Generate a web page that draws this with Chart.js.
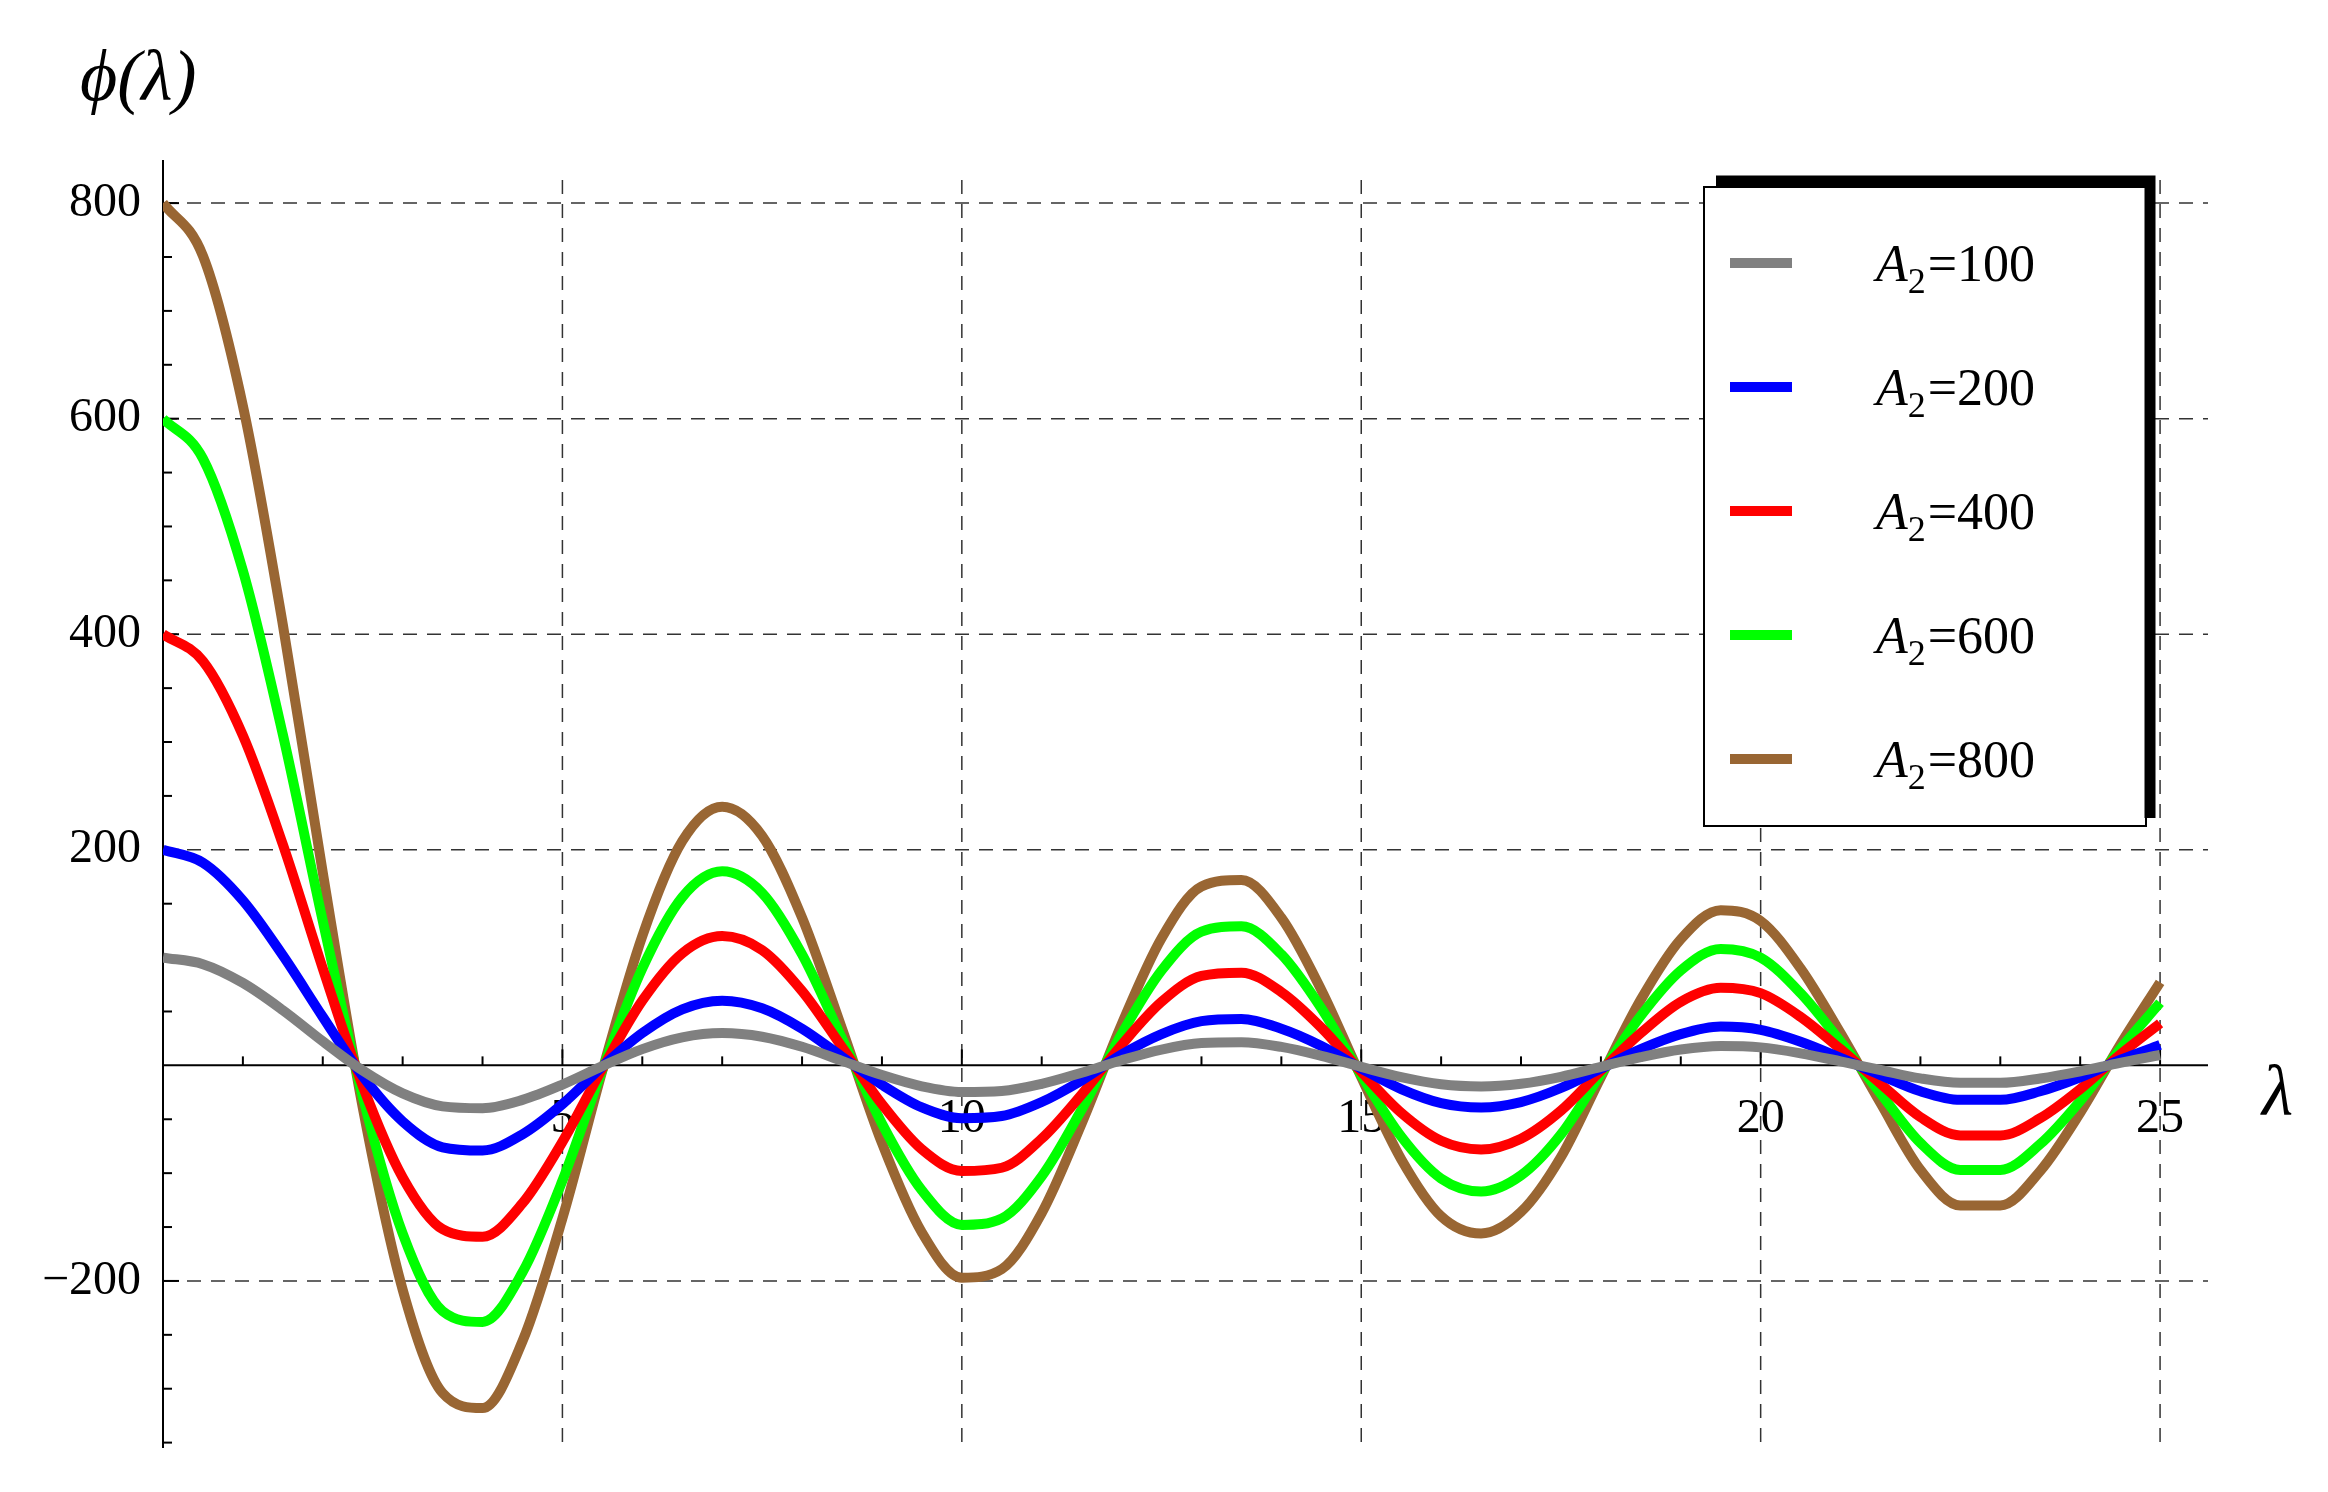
<!DOCTYPE html>
<html><head><meta charset="utf-8">
<script src="https://cdn.jsdelivr.net/npm/chart.js@4/dist/chart.umd.min.js"></script>
<style>html,body{margin:0;padding:0;background:#fff}#w{width:2328px;height:1492px}</style>
</head><body><div id="w"><canvas id="c"></canvas></div>
<script>
const lambdas = [];
for (let i = 0; i <= 50; i++) lambdas.push(i * 0.5);
const labels = ["A2=100","A2=200","A2=400","A2=600","A2=800"];
const s100 = [100,93.9,76.5,51.2,22.4,-4.8,-26,-38,-39.7,-32,-17.8,-0.7,15.1,26,30,26.6,17.2,4.2,-9,-19.4,-24.6,-23.7,-17.1,-6.8,4.8,14.7,20.7,21.5,17.1,8.8,-1.4,-10.9,-17.5,-19.5,-17,-10.6,-1.3,7.6,14.7,18,16.7,11.2,3.7,-4.3,-12.1,-16.2,-16.2,-12.2,-5.6,2.4,9.6];
const s200 = [200,188,153,102,45,-10,-52,-76,-79,-64,-36,-1,30,52,60,53,34,8,-18,-39,-49,-47,-34,-14,10,29,41,43,34,18,-3,-22,-35,-39,-34,-21,-3,15,29,36,33,22,7,-9,-24,-32,-32,-24,-11,5,19];
const s400 = [400,375,306,205,90,-19,-104,-152,-159,-128,-71,-3,60,104,120,107,69,17,-36,-78,-98,-95,-68,-27,19,59,83,86,68,35,-6,-44,-70,-78,-68,-42,-5,30,59,72,67,45,15,-17,-48,-65,-65,-49,-22,10,39];
const s600 = [600,563,459,307,134,-29,-156,-228,-238,-192,-107,-4,90,156,180,160,103,25,-54,-116,-148,-142,-103,-41,29,88,124,129,103,53,-9,-66,-105,-117,-102,-64,-8,46,88,108,100,67,22,-26,-72,-97,-97,-73,-33,15,58];
const s800 = [800,751,612,409,179,-39,-208,-304,-318,-256,-142,-5,120,208,240,213,137,34,-72,-155,-197,-189,-137,-54,38,118,166,172,137,70,-11,-87,-140,-156,-136,-85,-11,61,117,144,134,90,30,-35,-97,-130,-130,-98,-44,19,77];
const xTicks = [5,10,15,20,25];
const yTicks = [-200,200,400,600,800];
const colors = ["#808080","#0000ff","#ff0000","#00ff00","#996633"];
const series = [s100,s200,s400,s600,s800];

const datasets = series.map((s,i)=>({label:labels[i],data:s.map((v,j)=>({x:lambdas[j],y:v})),
  borderColor:colors[i],borderWidth:10,pointRadius:0,fill:false,cubicInterpolationMode:'monotone'}));

const deco = {
  id:'deco',
  beforeDatasetsDraw(ch){
    const c=ch.ctx,xs=ch.scales.x,ys=ch.scales.y,a=ch.chartArea;
    c.save();
    c.strokeStyle='#333';c.lineWidth=1.5;c.setLineDash([14,10]);
    xTicks.forEach(t=>{const px=xs.getPixelForValue(t);c.beginPath();c.moveTo(px,a.top+20);c.lineTo(px,a.bottom);c.stroke();});
    yTicks.forEach(t=>{const py=ys.getPixelForValue(t);c.beginPath();c.moveTo(a.left,py);c.lineTo(a.right,py);c.stroke();});
    c.setLineDash([]);c.strokeStyle='#000';c.lineWidth=2;
    const x0=xs.getPixelForValue(0),y0=ys.getPixelForValue(0);
    c.beginPath();c.moveTo(a.left,y0);c.lineTo(a.right,y0);c.stroke();
    c.beginPath();c.moveTo(x0,a.top);c.lineTo(x0,a.bottom);c.stroke();
    for(let v=1;v<=25;v++){const px=xs.getPixelForValue(v);const L=v%5==0?16:9;c.beginPath();c.moveTo(px,y0);c.lineTo(px,y0-L);c.stroke();}
    for(let v=-350;v<=800;v+=50){if(v==0)continue;const py=ys.getPixelForValue(v);const L=v%200==0?16:9;c.beginPath();c.moveTo(x0,py);c.lineTo(x0+L,py);c.stroke();}
    c.fillStyle='#000';c.font='48px "Liberation Serif"';
    c.textAlign='center';c.textBaseline='top';
    xTicks.forEach(t=>c.fillText(String(t),xs.getPixelForValue(t),y0+30));
    c.textAlign='right';c.textBaseline='middle';
    yTicks.forEach(t=>c.fillText(t<0?'\u2212'+(-t):String(t),x0-22,ys.getPixelForValue(t)));
    c.font='italic 72px "Liberation Serif"';c.textAlign='left';c.textBaseline='alphabetic';
    c.fillText('\u03d5(\u03bb)',80,100);
    c.fillText('\u03bb',2262,1115);
    c.restore();
  },
  afterDatasetsDraw(ch){
    const c=ch.ctx;c.save();
    const L=1704,T=187,R=2146,B=826;
    c.fillStyle='#fff';c.fillRect(L,T,R-L,B-T);
    c.strokeStyle='#000';c.lineWidth=2;c.strokeRect(L,T,R-L,B-T);
    c.lineWidth=11;c.beginPath();c.moveTo(1716,181);c.lineTo(2150,181);c.lineTo(2150,818);c.stroke();
    labels.forEach((lb,i)=>{
      const y=263+i*124;
      c.strokeStyle=colors[i];c.lineWidth=10;c.beginPath();c.moveTo(1730,y);c.lineTo(1792,y);c.stroke();
      c.fillStyle='#000';c.textBaseline='alphabetic';c.textAlign='left';
      let x=1876;
      c.font='italic 52px "Liberation Serif"';c.fillText('A',x,y+18);x+=c.measureText('A').width;
      c.font='36px "Liberation Serif"';c.fillText('2',x,y+30);x+=c.measureText('2').width+2;
      c.font='52px "Liberation Serif"';c.fillText('='+lb.split('=')[1],x,y+18);
    });
    c.restore();
  }
};

new Chart(document.getElementById('c'),{type:'line',data:{datasets},
  options:{responsive:true,maintainAspectRatio:false,animation:false,
    layout:{padding:{left:163,right:120,top:160,bottom:44}},
    plugins:{legend:{display:false},tooltip:{enabled:false}},
    scales:{x:{type:'linear',min:0,max:25.6,display:false},y:{min:-355,max:840,display:false}}},
  plugins:[deco]});
</script></body></html>
